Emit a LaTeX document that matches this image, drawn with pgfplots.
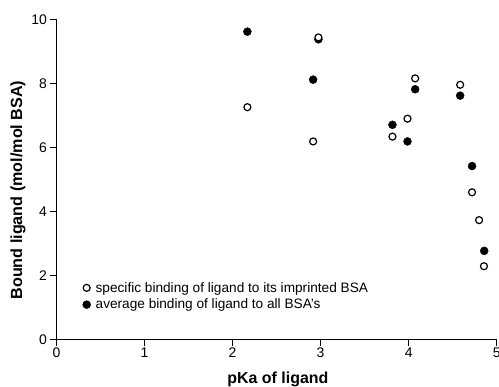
\documentclass[border=0pt]{standalone}
\usepackage{pgfplots}
\pgfplotsset{compat=1.18}
\usepackage{fontspec}
\setmainfont{Liberation Sans}
\begin{document}
\begin{tikzpicture}
\begin{axis}[name=ax,
  scale only axis, width=440.2bp, height=320bp,
  xmin=0, xmax=5, ymin=0, ymax=10,
  axis lines=left, axis line style={-, line width=1.1bp},
  xtick={0,1,2,3,4,5}, ytick={0,2,4,6,8,10},
  tick align=outside, major tick length=6bp,
  tick style={line width=1bp, black},
  /pgf/number format/assume math mode=true,
  tick label style={font=\fontsize{14}{16}\selectfont},
  xticklabel style={yshift=1bp},
  xlabel={\bfseries pKa of ligand},
  ylabel={\bfseries Bound ligand (mol/mol BSA)},
  xlabel style={font=\fontsize{16}{18}\selectfont, at={(axis description cs:0.503,0)}, anchor=center, yshift=-40bp},
  ylabel style={font=\fontsize{16.2}{18}\selectfont, at={(axis description cs:0,0.467)}, anchor=center, yshift=38.5bp},
  clip=false,
  legend style={at={(axis cs:0.295,1.86)}, anchor=north west, draw=none, fill=none,
    font=\fontsize{13.7}{15}\selectfont, row sep=1.4bp, inner sep=0pt,
    /tikz/every odd column/.style={column sep=3bp}},
  legend cell align=left,
  reverse legend,
  legend image code/.code={\draw[mark repeat=2,mark phase=2,#1] plot coordinates {(0bp,0bp) (4.5bp,0bp) (9bp,0bp)};},
]
\addplot[only marks, mark=*, mark size=4.0bp, draw=black, fill=black] coordinates {
(2.168,9.62) (2.975,9.38) (2.915,8.12) (3.816,6.71) (3.987,6.19)
(4.074,7.82) (4.585,7.62) (4.72,5.42) (4.858,2.77)
};
\addlegendentry{average binding of ligand to all BSA's}
\addplot[only marks, mark=*, mark size=3.5bp, draw=black, fill=white, line width=1.2bp] coordinates {
(2.168,7.26) (2.975,9.44) (2.915,6.19) (3.816,6.34) (3.987,6.90)
(4.074,8.16) (4.585,7.96) (4.72,4.60) (4.80,3.73) (4.855,2.29)
};
\addlegendentry{specific binding of ligand to its imprinted BSA}
\end{axis}
\pgfresetboundingbox
\path[use as bounding box] ([xshift=-56.5bp,yshift=-47.5bp]ax.south west) rectangle ([xshift=2.3bp,yshift=19.5bp]ax.north east);
\end{tikzpicture}
\end{document}
